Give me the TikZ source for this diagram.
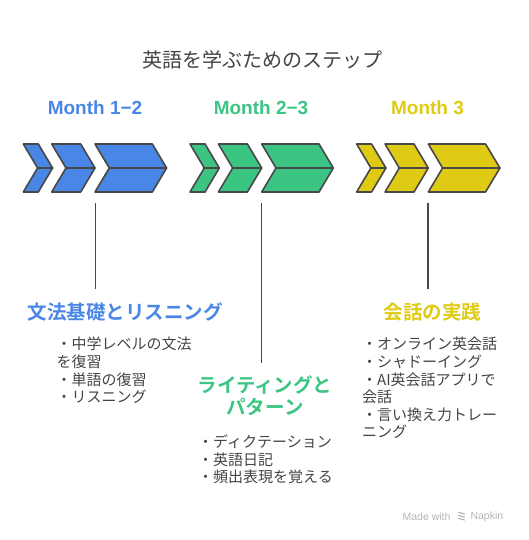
\documentclass[tikz,border=0pt]{standalone}
\usepackage{fontspec}
\usepackage{xcolor}
\setmainfont{Liberation Sans}
\newfontfamily\jpfont{Noto Sans CJK JP}
\newfontfamily\jpbold{Noto Sans CJK JP Bold}
\usetikzlibrary{calc}

\definecolor{stepblue}{HTML}{4A86E6}
\definecolor{stepgreen}{HTML}{3CC582}
\definecolor{stepyellow}{HTML}{DFCB14}
\definecolor{edgegray}{HTML}{484848}
\definecolor{textgray}{HTML}{444444}
\definecolor{markgray}{HTML}{B4B4B4}

\begin{document}
\begin{tikzpicture}[x=1pt, y=-1pt,
	half/.style={draw=edgegray, line width=1.6pt, line join=round},
	month/.style={font=\fontsize{19}{22}\selectfont\bfseries, inner sep=0pt},
	head/.style={font=\jpbold\fontsize{19.5}{22}\selectfont, inner sep=0pt, align=center},
	body/.style={font=\jpfont\fontsize{15}{17.6}\selectfont, text=textgray, inner sep=0pt, align=left, anchor=north west},
	link/.style={draw=edgegray, line width=1.5pt, shorten >=13pt}]
	\useasboundingbox (0,0) rectangle (528,540);

	% title
	\node[font=\jpfont\fontsize{20}{22}\selectfont, text=textgray] (title) at (262,60) {英語を学ぶためのステップ};

	% chevrons, three groups
	\foreach \o/\c in {0/stepblue, 166.7/stepgreen, 333.3/stepyellow} {
		\foreach \a/\w in {23.3/15, 51.7/29, 95/57.3} {
			\draw[half, fill=\c] (\o+\a,144) -- (\o+\a+\w,144) -- (\o+\a+\w+14.3,168) -- (\o+\a+14.3,168) -- cycle;
			\draw[half, fill=\c] (\o+\a,192) -- (\o+\a+\w,192) -- (\o+\a+\w+14.3,168) -- (\o+\a+14.3,168) -- cycle;
		}
	}

	% months
	\node[month, text=stepblue] (m1) at (95,108) {Month 1−2};
	\node[month, text=stepgreen] (m2) at (261,108) {Month 2−3};
	\node[month, text=stepyellow] (m3) at (427.5,108) {Month 3};

	% headings
	\node[head, text=stepblue] (h1) at (125,311.7) {文法基礎とリスニング};
	\node[head, text=stepgreen, font=\jpbold\fontsize{19.5}{21.7}\selectfont] (h2) at (265,396) {ライティングと\\パターン};
	\node[head, text=stepyellow] (h3) at (432.5,311.7) {会話の実践};

	% connectors
	\coordinate (s1) at (95.5,203);
	\coordinate (s2) at (261.5,203);
	\coordinate (s3) at (428,203);
	\draw[link] (s1) -- (s1 |- h1.north);
	\draw[link] (s2) -- (s2 |- h2.north);
	\draw[link] (s3) -- (s3 |- h3.north);

	% lists
	\node[body] (b1) at (56.5,337) {・中学レベルの文法\\を復習\\・単語の復習\\・リスニング};
	\node[body] (b2) at (198,434.5) {・ディクテーション\\・英語日記\\・頻出表現を覚える};
	\node[body] (b3) at (362,337) {・オンライン英会話\\・シャドーイング\\・AI英会話アプリで\\会話\\・言い換え力トレー\\ニング};

	% watermark
	\node[font=\fontsize{10.5}{12}\selectfont, text=markgray, anchor=east] (mw) at (454,517) {Made with};
	\node[font=\fontsize{10.5}{12}\selectfont, text=markgray, anchor=west] (np) at (467,517) {Napkin};
	\foreach \k in {0,1,2} {
		\draw[markgray, line width=1.1pt, line cap=round] (458.5,512.5+\k*3) -- (464.5,514+\k*3);
	}
\end{tikzpicture}
\end{document}
